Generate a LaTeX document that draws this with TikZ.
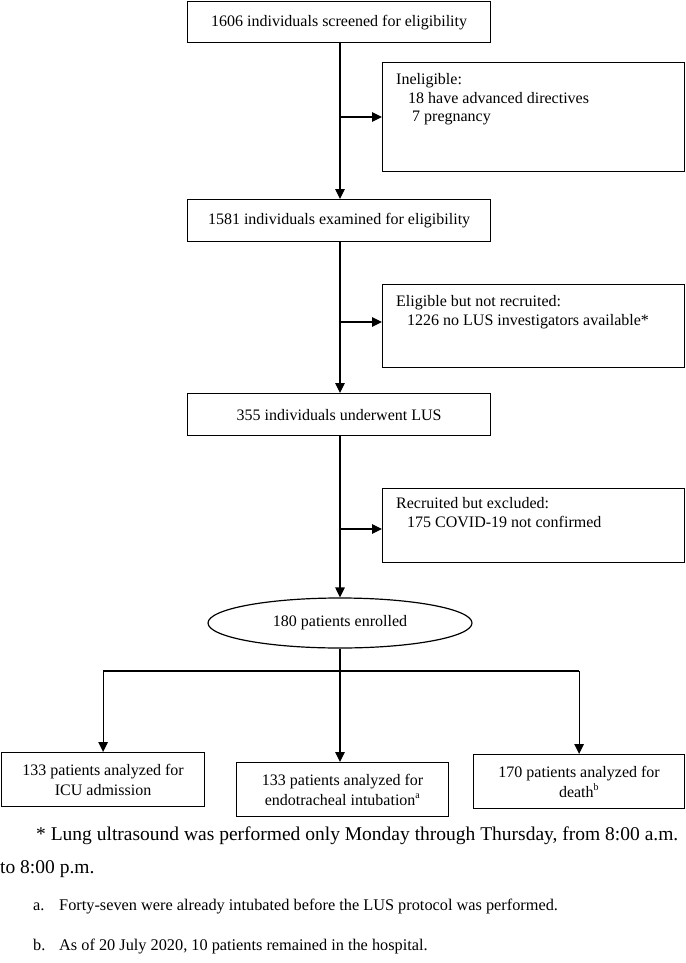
\documentclass[tikz,border=0pt]{standalone}
\usepackage{fontspec}
\setmainfont{Liberation Serif}
\usetikzlibrary{arrows.meta,shapes.geometric}
\tikzset{
  ln/.style={line width=1.2pt},
  arr/.style={ln,-{Triangle[length=10pt,width=9.5pt]}},
  boxn/.style={draw,ln,rectangle,inner sep=0pt,anchor=north west,align=center,font=\fontsize{16}{20}\selectfont},
  sidetext/.style={inner sep=0pt,anchor=north west,align=left,font=\fontsize{16}{18.5}\selectfont},
  note/.style={inner sep=0pt,anchor=base west,font=\fontsize{16.3}{18}\selectfont},
  bignote/.style={inner sep=0pt,anchor=base west,font=\fontsize{19.5}{22}\selectfont}
}
\begin{document}
\begin{tikzpicture}[x=1pt,y=-1pt]
\useasboundingbox (0,0) rectangle (685,963);
% main boxes
\node[boxn,minimum width=303pt,minimum height=41pt] (b1) at (187,1) {1606 individuals screened for eligibility};
\node[boxn,minimum width=303pt,minimum height=42pt] (b2) at (187,199) {1581 individuals examined for eligibility};
\node[boxn,minimum width=303pt,minimum height=42pt] (b3) at (187,393) {355 individuals underwent LUS};
% side boxes
\node[boxn,minimum width=302pt,minimum height=109pt] (ine) at (382,62) {};
\node[sidetext] (inet) at (396,73.5) {Ineligible:\\\hspace*{12pt}18 have advanced directives\\\hspace*{16pt}7 pregnancy};
\node[boxn,minimum width=302pt,minimum height=83pt] (eli) at (382,284) {};
\node[sidetext] (elit) at (396,295.5) {Eligible but not recruited:\\\hspace*{11pt}1226 no LUS investigators available*};
\node[boxn,minimum width=302pt,minimum height=74pt] (rec) at (382,488) {};
\node[sidetext] (rect) at (396,497.5) {Recruited but excluded:\\\hspace*{11pt}175 COVID-19 not confirmed};
% ellipse
\node[draw,ln,ellipse,minimum width=264pt,minimum height=50pt,inner sep=0pt,font=\fontsize{16}{20}\selectfont] (ell) at (340,623) {180 patients enrolled};
% bottom boxes
\node[boxn,minimum width=203pt,minimum height=54pt] (lft) at (1,752) {133 patients analyzed for\\ICU admission};
\node[boxn,minimum width=212pt,minimum height=54pt] (mid) at (236,762) {133 patients analyzed for\\endotracheal intubation\textsuperscript{\fontsize{10}{10}\selectfont a}};
\node[boxn,minimum width=211pt,minimum height=54pt] (rgt) at (473,754) {170 patients analyzed for\\death\textsuperscript{\fontsize{10}{10}\selectfont b}};
% connectors
\coordinate (m1) at (340,117);
\coordinate (m2) at (340,322);
\coordinate (m3) at (340,529);
\coordinate (br) at (340,671);
\draw[arr] (b1.south -| br) -- (b2.north -| br);
\draw[arr] (m1) -- (m1 -| ine.west);
\draw[arr] (b2.south -| br) -- (b3.north -| br);
\draw[arr] (m2) -- (m2 -| eli.west);
\draw[arr] (b3.south -| br) -- (ell.north);
\draw[arr] (m3) -- (m3 -| rec.west);
\draw[ln] (ell.south) -- (br);
\draw[ln] (br -| lft.north) -- (br -| rgt.north);
\draw[arr] (br -| lft.north) -- (lft.north);
\draw[arr] (br) -- (br |- mid.north);
\draw[arr] (br -| rgt.north) -- (rgt.north);
% notes
\node[bignote] (n1) at (36,840) {* Lung ultrasound was performed only Monday through Thursday, from 8:00 a.m.};
\node[bignote] (n2) at (0,873) {to 8:00 p.m.};
\node[note] (na) at (33,910) {a.};
\node[note] (nat) at (59,910) {Forty-seven were already intubated before the LUS protocol was performed.};
\node[note] (nb) at (33,950) {b.};
\node[note] (nbt) at (59,950) {As of 20 July 2020, 10 patients remained in the hospital.};
\end{tikzpicture}
\end{document}
